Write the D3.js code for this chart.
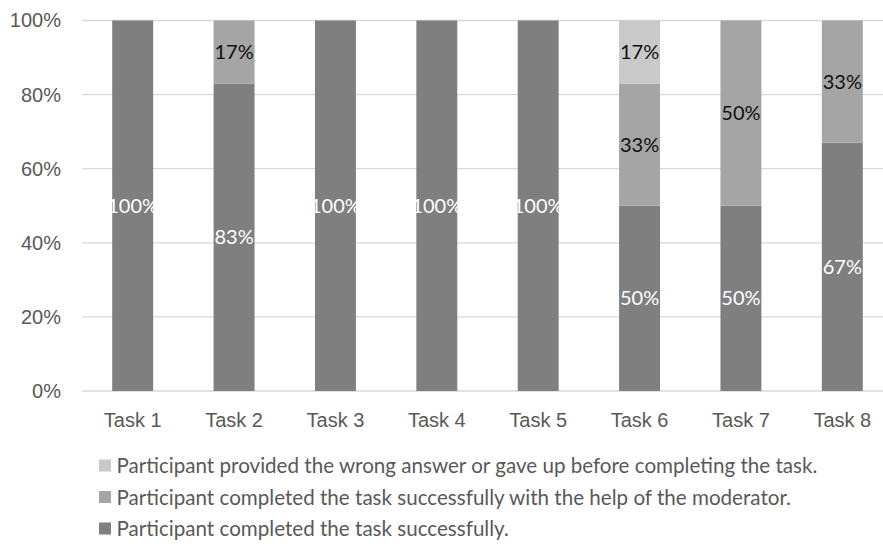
<!DOCTYPE html>
<html>
<head>
<meta charset="utf-8">
<script src="https://cdn.jsdelivr.net/npm/d3@7"></script>
<style>
  html, body { margin: 0; padding: 0; background: #fff; }
  svg { display: block; font-family: Lato, "Noto Sans", sans-serif; }
</style>
</head>
<body>
<svg id="chart" width="883" height="556"></svg>
<script>
// Task outcomes, in percent of participants
const tasks = ["Task 1", "Task 2", "Task 3", "Task 4", "Task 5", "Task 6", "Task 7", "Task 8"];
const success = [100, 83, 100, 100, 100, 50, 50, 67];
const withHelp = [0, 17, 0, 0, 0, 33, 50, 33];
const failed = [0, 0, 0, 0, 0, 17, 0, 0];
const yTicks = [0, 0.2, 0.4, 0.6, 0.8, 1];

const seriesKeys = ["success", "withHelp", "failed"];
const seriesNames = {
  failed: "Participant provided the wrong answer or gave up before completing the task.",
  withHelp: "Participant completed the task successfully with the help of the moderator.",
  success: "Participant completed the task successfully."
};
const colors = { success: "#7f7f7f", withHelp: "#a5a5a5", failed: "#c9c9c9" };
const labelColors = { success: "#ffffff", withHelp: "#111111", failed: "#111111" };

const rows = tasks.map((t, i) => ({ task: t, success: success[i], withHelp: withHelp[i], failed: failed[i] }));
const stacked = d3.stack().keys(seriesKeys)(rows);

const svg = d3.select("#chart");
const fontSize = 20;

const x = d3.scaleBand().domain(tasks).range([82, 893]).paddingInner(0.596).paddingOuter(0.298);
const y = d3.scaleLinear().domain([0, 1]).range([391, 20.5]);

// gridlines
svg.append("g")
  .selectAll("line")
  .data(yTicks)
  .join("line")
  .attr("x1", 82).attr("x2", 883)
  .attr("y1", d => y(d)).attr("y2", d => y(d))
  .attr("stroke", "#d9d9d9").attr("stroke-width", 1.3);

// y axis labels
const yAxis = d3.axisLeft(y).tickValues(yTicks).tickFormat(d3.format(".0%")).tickSize(0).tickPadding(21);
svg.append("g")
  .attr("transform", "translate(82,0)")
  .call(yAxis)
  .call(g => g.select(".domain").remove())
  .call(g => g.selectAll("text").attr("fill", "#595959").attr("font-size", fontSize).attr("font-family", null));

// x axis labels
const xAxis = d3.axisBottom(x).tickSize(0).tickPadding(22);
svg.append("g")
  .attr("transform", "translate(0,391)")
  .call(xAxis)
  .call(g => g.select(".domain").remove())
  .call(g => g.selectAll("text").attr("fill", "#595959").attr("font-size", fontSize).attr("font-family", null));

// stacked bars
const layers = svg.append("g")
  .selectAll("g")
  .data(stacked)
  .join("g")
  .attr("fill", d => colors[d.key]);

layers.selectAll("rect")
  .data(d => d.filter(s => s[1] > s[0]))
  .join("rect")
  .attr("x", d => x(d.data.task))
  .attr("width", x.bandwidth())
  .attr("y", d => y(d[1] / 100))
  .attr("height", d => y(d[0] / 100) - y(d[1] / 100));

// value labels centred in each segment
svg.append("g")
  .selectAll("g")
  .data(stacked)
  .join("g")
  .attr("fill", d => labelColors[d.key])
  .selectAll("text")
  .data(d => d.filter(s => s[1] > s[0]))
  .join("text")
  .attr("x", d => x(d.data.task) + x.bandwidth() / 2)
  .attr("y", d => y((d[0] + d[1]) / 200))
  .attr("dy", "0.35em")
  .attr("text-anchor", "middle")
  .attr("font-size", fontSize)
  .text(d => (d[1] - d[0]) + "%");

// legend
const legendOrder = ["failed", "withHelp", "success"];
const legend = svg.append("g")
  .selectAll("g")
  .data(legendOrder)
  .join("g")
  .attr("transform", (d, i) => `translate(99,${466 + i * 31.5})`);

legend.append("rect")
  .attr("x", 0).attr("y", -6.5)
  .attr("width", 12).attr("height", 12)
  .attr("fill", d => colors[d]);

legend.append("text")
  .attr("x", 17.5)
  .attr("dy", "0.35em")
  .attr("fill", "#595959")
  .attr("font-size", 20.6)
  .text(d => seriesNames[d]);
</script>
</body>
</html>
